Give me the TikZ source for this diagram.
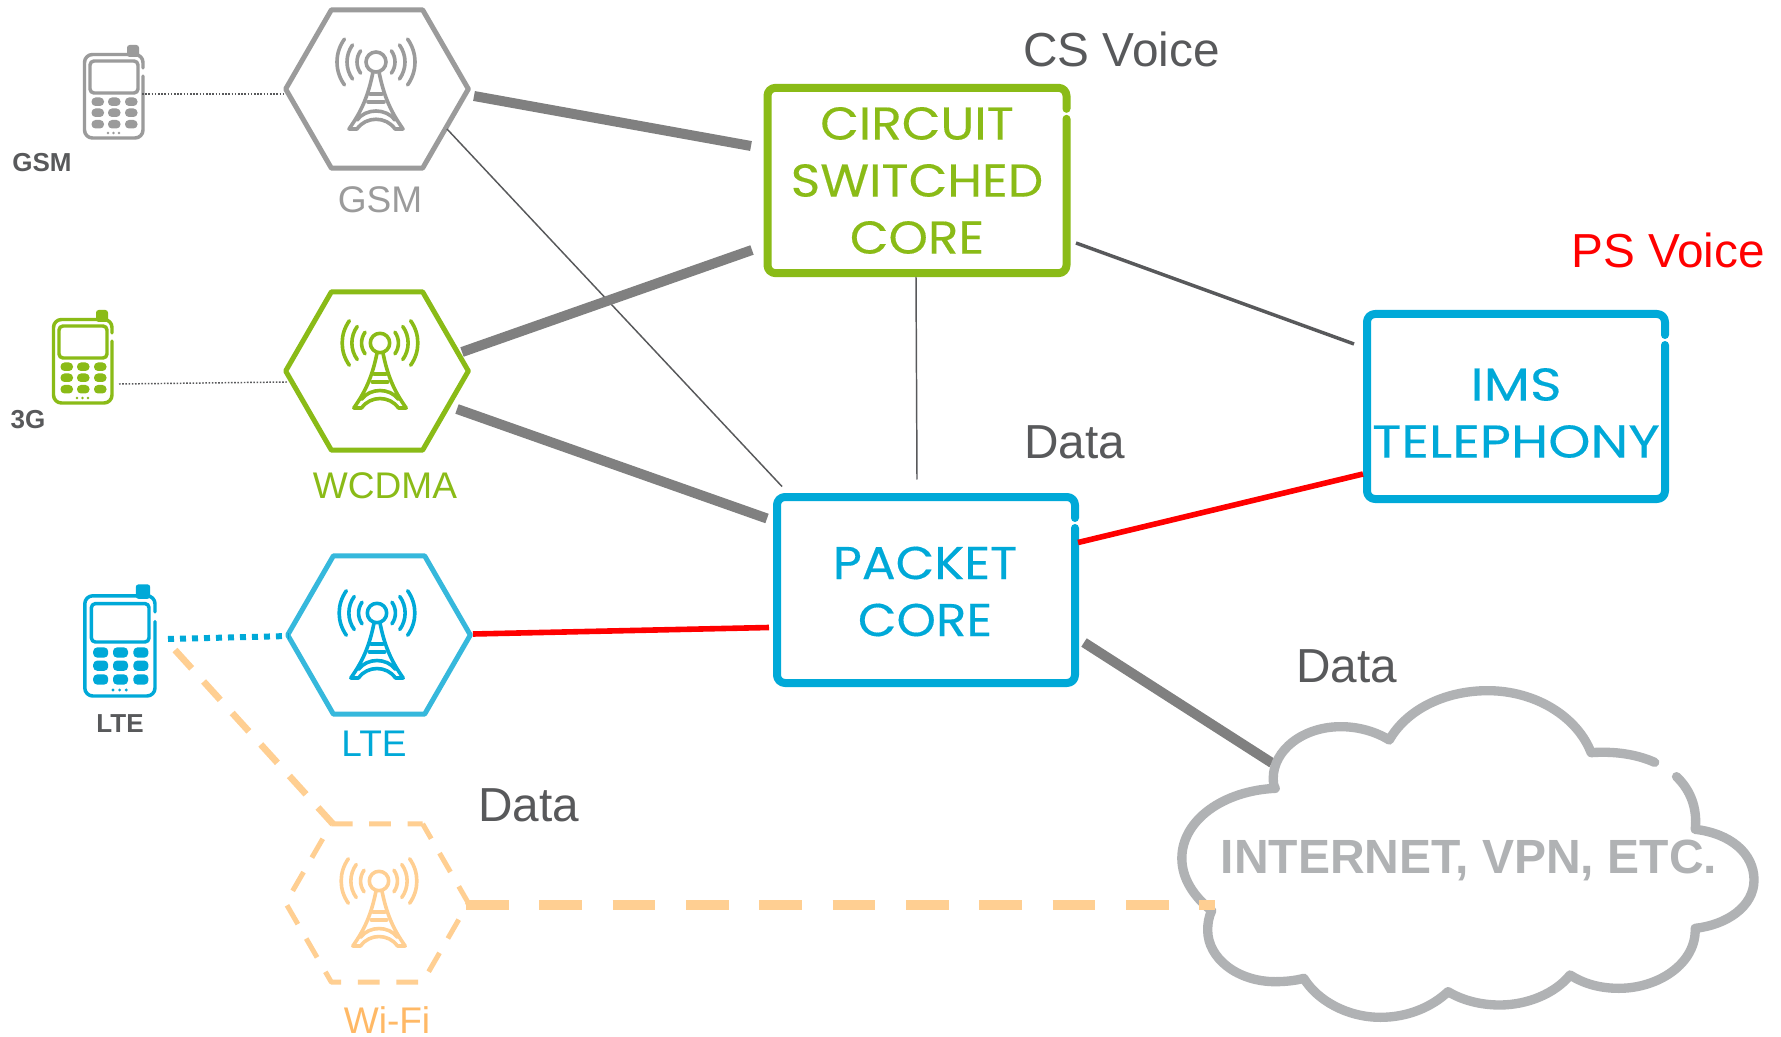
\documentclass[tikz,border=0pt]{standalone}
\usepackage{fontspec}
\usepackage{graphicx}
\usetikzlibrary{calc,shapes.geometric}
\setmainfont{Liberation Sans}
\newfontfamily\roundfont[FakeStretch=1.09,FakeBold=0.3]{Poppins}
\newfontfamily\roundwide[FakeStretch=1.17,FakeBold=0.3]{Poppins}
\definecolor{cgreen}{HTML}{8ABB17}
\definecolor{cblue}{HTML}{00A9D8}
\definecolor{chexblue}{HTML}{36B8DC}
\definecolor{cgrey}{HTML}{9B9B9B}
\definecolor{cdark}{HTML}{58595B}
\definecolor{cthick}{HTML}{808080}
\definecolor{corange}{HTML}{FFCF92}
\definecolor{corangetext}{HTML}{FFB966}
\definecolor{ccloud}{HTML}{B0B2B4}
\tikzset{
  hexnode/.style={regular polygon,regular polygon sides=6,minimum size=137pt,inner sep=0pt,outer sep=0pt,line width=3.75pt,line join=round},
  boxnode/.style={inner sep=0pt,outer sep=0pt},
  boxtext/.style={inner sep=0pt,outer sep=0pt,align=center,font=\roundfont\fontsize{34.5}{42.75}\selectfont},
  biglabel/.style={anchor=base west,inner sep=0pt,font=\fontsize{35.8}{40}\selectfont,text=cdark},
  hexlabel/.style={anchor=base,inner sep=0pt,font=\fontsize{27.8}{32}\selectfont},
  phonelabel/.style={anchor=base,inner sep=0pt,font=\bfseries\fontsize{19.5}{24}\selectfont,text=cdark},
  phonenode/.style={inner sep=0pt,outer sep=0pt,minimum width=46pt,minimum height=65pt},
  thicklink/.style={cthick,line width=7.5pt},
  thinlink/.style={cdark,line width=1.1pt},
  midlink/.style={cdark,line width=2.6pt},
  redlink/.style={red,line width=4.2pt},
  dotlink/.style={cdark,line width=1.1pt,dash pattern=on 1.2pt off 1.2pt},
}
% x, y (top-left of body), scale, colour, line width
\newcommand{\phoneicon}[5]{%
\begin{scope}[shift={(#1,#2)},scale=#3,color=#4,line width=#5,line cap=round,line join=round]
  \draw[rounded corners=6pt] (60,15) -- (60,1.5) -- (1.5,1.5) -- (1.5,85) -- (60,85) -- (60,23);
  \draw[rounded corners=3pt] (7,8) rectangle (55,40);
  \fill[rounded corners=2pt] (44,-8) rectangle (56,4);
  \foreach \cx in {8.5,25,42}{\foreach \cy in {44.5,55.5,67}{%
    \fill[rounded corners=3pt] (\cx,\cy) rectangle ++(12.5,8.5);}}
  \foreach \cx in {25,30.5,36}{\fill (\cx,80) circle[radius=1.3];}
\end{scope}}
% x, y (centre of rings), scale, colour, line width
\newcommand{\towericon}[5]{%
\begin{scope}[shift={(#1,#2)},scale=#3,color=#4,line width=#5,line cap=round,line join=round]
  \draw (0,0) circle[radius=10];
  \foreach \r in {19,29,39}{%
    \draw (144:\r) arc[start angle=144,end angle=216,radius=\r];
    \draw (36:\r) arc[start angle=36,end angle=-36,radius=\r];}
  \draw (-3,10) .. controls (-8,35) and (-15,50) .. (-27,67) -- (-19,67) .. controls (-10,54) and (10,54) .. (19,67) -- (27,67) .. controls (15,50) and (8,35) .. (3,10);
  \draw (-19,58) .. controls (-10,46) and (10,46) .. (19,58);
  \draw (-8,40) -- (8,40);
  \draw (-6,32) -- (6,32);
\end{scope}}
% name, colour: outlined box with a small gap near its upper right corner
\newcommand{\gapbox}[2]{%
\draw[color=#2,line width=6pt,line cap=round,line join=round,rounded corners=6pt]
  ($(#1.north east)+(0,21)$) -- (#1.north east) -- (#1.north west) -- (#1.south west) -- (#1.south east) -- ($(#1.north east)+(0,31)$);}
\begin{document}
\begin{tikzpicture}[x=0.75pt,y=-0.75pt]
\useasboundingbox (0,0) rectangle (1781,1037);
\fill[white] (0,0) rectangle (1781,1037);

% hexagons
\node[hexnode,draw=cgrey] (gsm) at (377,89) {};
\node[hexnode,draw=cgreen] (wcdma) at (377,371) {};
\node[hexnode,draw=chexblue] (lte) at (379,635) {};
\node[hexnode,draw=corange,dash pattern=on 16.3pt off 12.5pt,dash phase=5pt] (wifi) at (377,903) {};
\towericon{376}{62}{1}{cgrey}{2.7pt}
\towericon{380}{343}{0.97}{cgreen}{2.7pt}
\towericon{377}{613}{0.97}{cblue}{2.7pt}
\towericon{379}{881}{0.97}{corange}{2.7pt}

\node[hexlabel,text=cgrey] (lgsm) at (380,213) {GSM};
\node[hexlabel,text=cgreen] (lwcdma) at (385,498) {WCDMA};
\node[hexlabel,text=cblue] (llte) at (374,756) {LTE};
\node[hexlabel,text=corangetext] (lwifi) at (387,1033) {Wi-Fi};

% phones
\node[phonenode] (pgsm) at (114,96.5) {};
\node[phonenode] (p3g) at (83,360) {};
\node[phonenode] (plte) at (120,646) {};
\phoneicon{83}{53}{1}{cgrey}{2.6pt}
\phoneicon{52}{318}{1}{cgreen}{2.6pt}
\phoneicon{83}{594}{1.2}{cblue}{2.6pt}
\node[phonelabel] (tgsm) at (42,172) {GSM};
\node[phonelabel] (t3g) at (28,428) {3G};
\node[phonelabel] (tlte) at (120,732) {LTE};

% core boxes
\node[boxnode,minimum width=224.25pt,minimum height=139pt] (csc) at (917,180.5) {};
\node[boxnode,minimum width=223.5pt,minimum height=139.5pt] (pkt) at (926,590) {};
\node[boxnode,minimum width=223.5pt,minimum height=138.75pt] (ims) at (1516,406.5) {};
\node[boxtext,text=cgreen] (csct) at ($(csc)+(0,0)$) {CIRCUIT\\SWITCHED\\CORE};
\node[boxtext,text=cblue] (pktt) at ($(pkt)+(-1,1.5)$) {PACKET\\CORE};
\node[boxtext,text=cblue,font=\roundwide\fontsize{34.5}{42.75}\selectfont] (imst) at ($(ims)+(0,6.5)$) {IMS\\TELEPHONY};
\gapbox{csc}{cgreen}
\gapbox{pkt}{cblue}
\gapbox{ims}{cblue}

% text
\node[biglabel] (tcs) at (1023,67) {CS Voice};
\node[biglabel,text=red] (tps) at (1571,268) {PS Voice};
\node[biglabel] (td1) at (1024,458) {Data};
\node[biglabel] (td2) at (1296,682) {Data};
\node[biglabel] (td3) at (478,821) {Data};

% cloud label
\node[inner sep=0pt,text=ccloud,font=\bfseries\fontsize{36}{40}\selectfont] (cloud) at (1469,860) {INTERNET, VPN, ETC.};

% connectors
\draw[thicklink] ($(gsm)+(97,7)$) -- ($(csc)+(-166,-34.5)$);
\draw[thinlink] ($(gsm)+(70,40)$) -- ($(pkt)+(-144,-103.5)$);
\draw[thicklink] ($(wcdma)+(85,-19)$) -- ($(csc)+(-165,69.5)$);
\draw[thicklink] ($(wcdma)+(80,38)$) -- ($(pkt)+(-159,-71.5)$);
\draw[thinlink] ($(csc)+(-1,96.5)$) -- ($(pkt)+(-9,-110.5)$);
\draw[midlink] ($(csc)+(159,62.5)$) -- ($(ims)+(-162,-62.5)$);
\draw[redlink] ($(pkt)+(152,-47.5)$) -- ($(ims)+(-153,67.5)$);
\draw[redlink] ($(lte)+(94,-1)$) -- ($(pkt)+(-157,37.5)$);
\draw[thicklink] ($(pkt)+(158,52.5)$) -- ($(cloud)+(-197,-97)$);
\draw[dotlink] ($(pgsm)+(28,-2.5)$) -- ($(gsm)+(-92,5)$);
\draw[dotlink] ($(p3g)+(36,24)$) -- ($(wcdma)+(-90,11)$);
\draw[cblue,line width=4.5pt,dash pattern=on 4.5pt off 4.5pt] ($(plte)+(48,-7)$) -- ($(lte)+(-90,1)$);
\draw[corange,line width=5pt,dash pattern=on 18.6pt off 13.3pt] ($(plte)+(55,4)$) -- ($(wifi)+(-44,-79)$);

% cloud outline
\begin{scope}[shift={(1158,670)},x=0.298pt,y=-0.25pt]
\draw[ccloud,line width=7pt,line cap=round,line join=round]
  (1305,320) .. controls (1340,360) and (1358,415) .. (1352,478)
  .. controls (1440,490) and (1500,550) .. (1500,630)
  .. controls (1500,710) and (1430,765) .. (1352,775)
  .. controls (1355,880) and (1260,955) .. (1160,955)
  .. controls (1110,955) and (1070,940) .. (1037,915)
  .. controls (1000,970) and (930,1005) .. (860,1005)
  .. controls (810,1005) and (765,990) .. (730,965)
  .. controls (690,1010) and (630,1042) .. (560,1042)
  .. controls (475,1042) and (400,990) .. (367,925)
  .. controls (345,932) and (320,935) .. (295,935)
  .. controls (200,935) and (125,865) .. (125,780)
  .. controls (125,760) and (128,740) .. (135,722)
  .. controls (90,680) and (60,625) .. (60,565)
  .. controls (60,450) and (165,362) .. (295,355)
  .. controls (290,345) and (290,335) .. (290,325)
  .. controls (290,240) and (365,170) .. (460,170)
  .. controls (505,170) and (548,185) .. (582,210)
  .. controls (625,120) and (720,62) .. (830,62)
  .. controls (950,62) and (1055,140) .. (1090,248)
  .. controls (1150,243) and (1205,253) .. (1250,277);
\end{scope}
\draw[corange,line width=7.5pt,dash pattern=on 32pt off 23pt] ($(wifi)+(89,2)$) -- ($(cloud)+(-254,45)$);
\end{tikzpicture}
\end{document}
